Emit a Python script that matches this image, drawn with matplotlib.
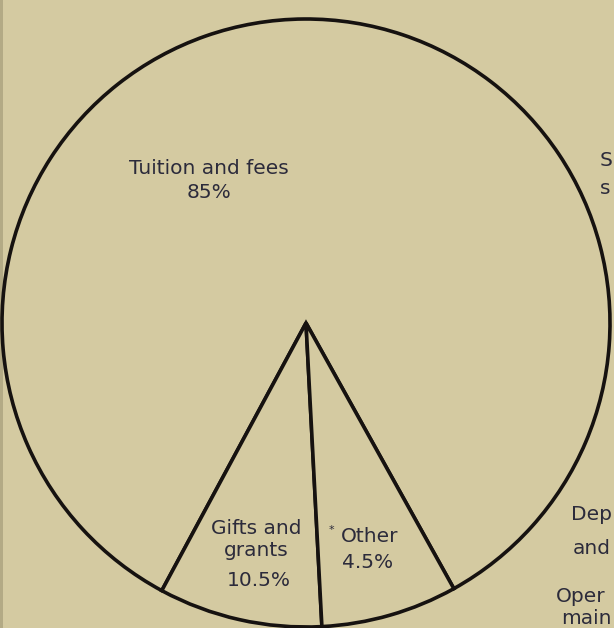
import matplotlib.pyplot as plt
from matplotlib.patches import Rectangle

# income slices; the printed percentages and the drawn wedge sizes of the
# scanned original do not agree, so both are kept
labels = ["Tuition and fees", "Gifts and\ngrants", "Other"]
printed = ["85%", "10.5%", "4.5%"]
drawn = [84.05, 8.7, 7.25]  # wedge sizes

# cropped labels of the neighbouring chart on the right edge
side_labels = ["S", "s", "Dep", "and", "Oper", "main"]

W, H = 614, 628
bg = "#d4caa1"
ink = "#161210"
txt = "#2c2b3b"

fig = plt.figure(figsize=(W / 100, H / 100), dpi=100)
fig.patch.set_facecolor(bg)
ax = fig.add_axes([0, 0, 1, 1])
ax.set_facecolor(bg)

ax.pie(drawn, startangle=-60.9, counterclock=True, center=(306, 305), radius=304,
       colors=[bg] * 3,
       wedgeprops=dict(edgecolor=ink, linewidth=2.6, joinstyle="miter"))
ax.set_xlim(0, W)
ax.set_ylim(0, H)
ax.set_aspect("equal")
ax.axis("off")

# darker scan edge on the left
ax.add_patch(Rectangle((0, 0), 3, H, color="#b3aa85", lw=0, zorder=0.5))

fs = 14.5
font = "DejaVu Sans"
kw = dict(ha="center", va="center", fontsize=fs, color=txt, family=font)
ax.text(209, H - 168, labels[0], **kw)
ax.text(209, H - 193, printed[0], **kw)

ax.text(256, H - 539, labels[1], linespacing=1.2, **kw)
ax.text(259, H - 581, printed[1], **kw)

ax.text(331, H - 530, "*", ha="center", va="center", fontsize=8, color=txt, family=font)
ax.text(370, H - 537, labels[2], **kw)
ax.text(368, H - 562, printed[2], **kw)

# right-hand fragments
side_pos = [(600, 160), (600, 188), (571, 514), (573, 548), (556, 596), (561, 618)]
for s, (x, y) in zip(side_labels, side_pos):
    ax.text(x, H - y, s, ha="left", va="center", fontsize=fs, color=txt, family=font)

fig.savefig("out.png", dpi=100, facecolor=bg)
